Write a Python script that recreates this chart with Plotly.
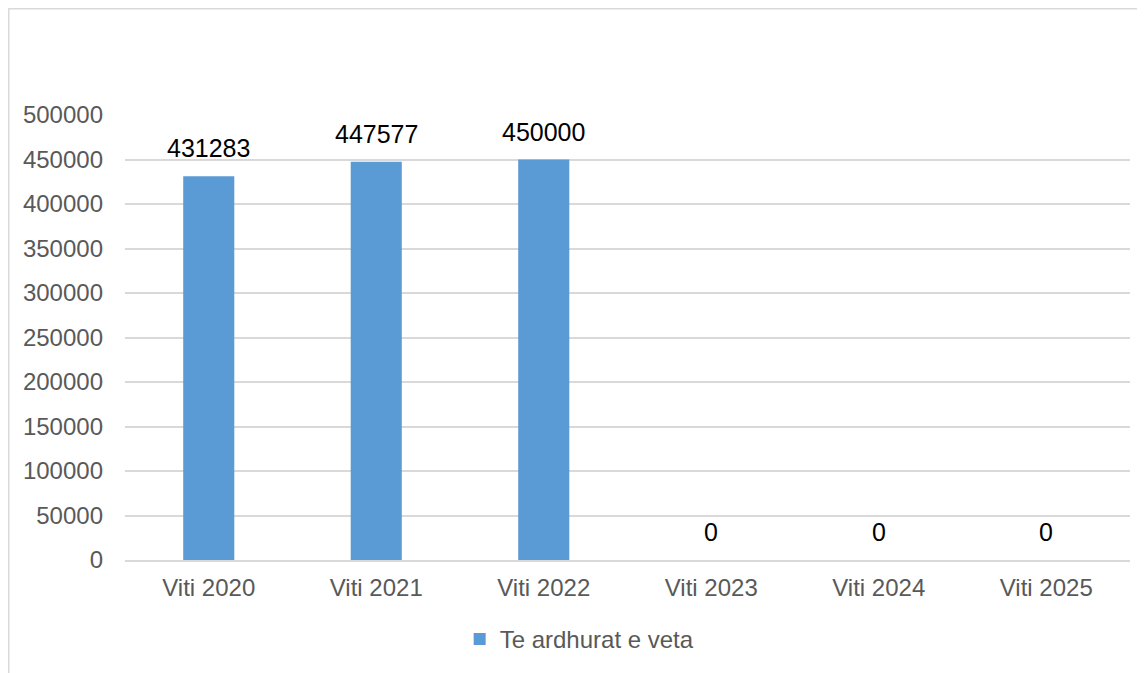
import plotly.graph_objects as go

categories = ["Viti 2020", "Viti 2021", "Viti 2022", "Viti 2023", "Viti 2024", "Viti 2025"]
values = [431283, 447577, 450000, 0, 0, 0]
series_name = "Te ardhurat e veta"
y_ticks = [0, 50000, 100000, 150000, 200000, 250000, 300000, 350000, 400000, 450000, 500000]

W, H = 1145, 673
# page body has an 8px margin; compensate so the plot lands where the reference has it
L, R, T, B = 117, 23, 107, 121
pw, ph = W - L - R, H - T - B

FAM = "Liberation Sans, Arial"
font = dict(family=FAM, size=24, color="#595959")

fig = go.Figure()
fig.add_trace(go.Bar(
    x=categories, y=values, name=series_name,
    marker=dict(color="#5B9BD5", line=dict(width=0)),
))

annotations = [
    dict(x=c, y=v, xref="x", yref="y", text=str(v), showarrow=False,
         yanchor="bottom", yshift=12,
         font=dict(family=FAM, size=25, color="#000000"))
    for c, v in zip(categories, values)
]

fig.update_layout(
    width=W, height=H,
    margin=dict(l=L, r=R, t=T, b=B, autoexpand=False),
    paper_bgcolor="white", plot_bgcolor="white",
    bargap=0.695,
    showlegend=True,
    legend=dict(orientation="h", x=0.333, xanchor="left", y=-0.128, yanchor="top",
                font=font, itemwidth=30),
    font=font,
    annotations=annotations,
    xaxis=dict(showgrid=False, showline=True, linecolor="#d9d9d9", linewidth=1.5,
               ticks="", tickfont=font, ticklabelstandoff=5),
    yaxis=dict(range=[0, 500000], tickvals=y_ticks, ticktext=[str(v) for v in y_ticks],
               showgrid=True, gridcolor="#d9d9d9", gridwidth=1.5, zeroline=False,
               showline=False, ticks="", tickfont=font, ticklabelstandoff=21),
    shapes=[dict(type="rect", xref="paper", yref="paper",
                 x0=(0.75 - L) / pw, x1=(W + 10 - L) / pw,
                 y0=-(H + 10 - T - ph) / ph, y1=1 + (T - 0.75) / ph,
                 line=dict(color="#d9d9d9", width=1.5), fillcolor="rgba(0,0,0,0)", layer="below")],
)

fig.write_html("out.html")
